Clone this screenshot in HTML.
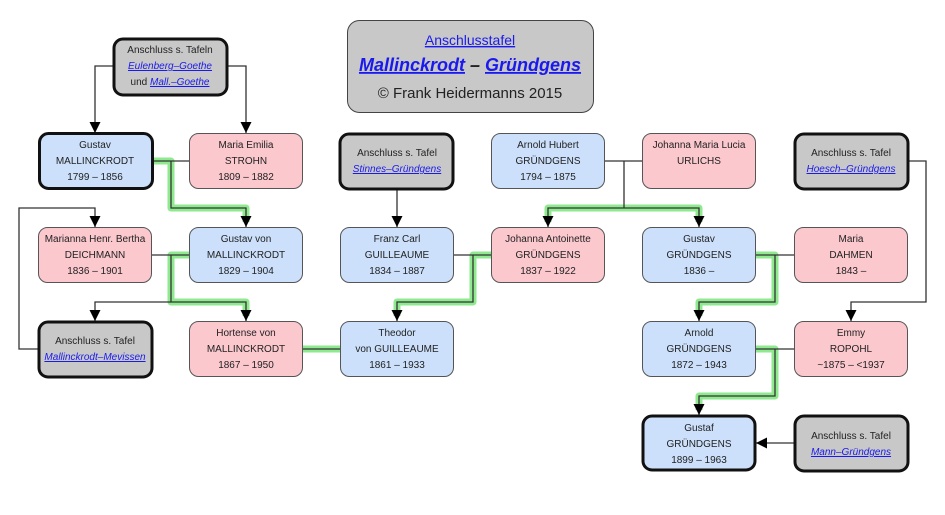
<!DOCTYPE html>
<html><head><meta charset="utf-8"><style>
body{margin:0;background:#fff}
svg text{font-family:"Liberation Sans",sans-serif;font-size:10px;text-anchor:middle;fill:#222}
.l{fill:#1a1aee;text-decoration:underline;font-style:italic}
</style></head><body>
<svg width="945" height="510" xmlns="http://www.w3.org/2000/svg">
<defs><marker id="a" markerWidth="10" markerHeight="10" refX="5" refY="9" orient="auto" markerUnits="userSpaceOnUse"><path d="M0,0 L10,0 L5,9z" fill="#000" transform="rotate(-90 5 5) rotate(90 5 5)"/></marker>
<marker id="b" viewBox="0 0 10 10" refX="10" refY="5" markerWidth="11" markerHeight="11" orient="auto" markerUnits="userSpaceOnUse"><path d="M0,0 L10,5 L0,10z" fill="#000"/></marker></defs>
<!-- green glows -->
<g fill="none" stroke="#8fea8f" stroke-width="7" stroke-linejoin="round">
<path d="M152,161 H171 V208 H246 V222"/>
<path d="M189,255 H171 V302 H246 V316"/>
<path d="M303,349 H340"/>
<path d="M491,255 H473 V302 H397 V316"/>
<path d="M548,222 V208 H699 V222"/>
<path d="M756,255 H775 V302 H699 V316"/>
<path d="M756,349 H775 V396 H699 V410"/>
</g>
<g fill="none" stroke="#333" stroke-width="1.3">
<path d="M113,66 H95 V133" marker-end="url(#b)"/>
<path d="M227,66 H246 V133" marker-end="url(#b)"/>
<path d="M152,161 H189"/>
<path d="M171,161 V208 H246 V227" marker-end="url(#b)"/>
<path d="M152,255 H189"/>
<path d="M171,255 V302 H246 V321" marker-end="url(#b)"/>
<path d="M171,302 H95 V321" marker-end="url(#b)"/>
<path d="M38,349 H19 V208 H95 V227" marker-end="url(#b)"/>
<path d="M303,349 H340"/>
<path d="M397,189 V227" marker-end="url(#b)"/>
<path d="M454,255 H491"/>
<path d="M473,255 V302 H397 V321" marker-end="url(#b)"/>
<path d="M605,161 H642"/>
<path d="M624,161 V208"/>
<path d="M624,208 H548 V227" marker-end="url(#b)"/>
<path d="M624,208 H699 V227" marker-end="url(#b)"/>
<path d="M756,255 H794"/>
<path d="M775,255 V302 H699 V321" marker-end="url(#b)"/>
<path d="M908,161 H926 V302 H851 V321" marker-end="url(#b)"/>
<path d="M756,349 H794"/>
<path d="M775,349 V396 H699 V415" marker-end="url(#b)"/>
<path d="M794,443 H756" marker-end="url(#b)"/>
</g>
<!-- title -->
<rect x="347.5" y="20.5" width="246" height="92" rx="12" fill="#c8c8c8" stroke="#444"/>
<text x="470" y="45" class="l" style="font-size:14px;font-style:normal">Anschlusstafel</text>
<text x="470" y="71" style="font-size:18px;font-weight:bold;font-style:italic"><tspan class="l">Mallinckrodt</tspan> – <tspan class="l">Gründgens</tspan></text>
<text x="470" y="98" style="font-size:15px">© Frank Heidermanns 2015</text>
<!-- gray boxes -->
<g stroke="#111" stroke-width="3" fill="#c8c8c8">
<rect x="114" y="39" width="113" height="56" rx="9"/>
<rect x="340" y="134" width="113" height="55" rx="9"/>
<rect x="795" y="134" width="113" height="55" rx="9"/>
<rect x="39" y="322" width="113" height="55" rx="9"/>
<rect x="795" y="416" width="113" height="55" rx="9"/>
</g>
<text x="170" y="53">Anschluss s. Tafeln</text><text x="170" y="69" class="l">Eulenberg–Goethe</text><text x="170" y="85">und <tspan class="l">Mall.–Goethe</tspan></text>
<text x="397" y="156">Anschluss s. Tafel</text><text x="397" y="172" class="l">Stinnes–Gründgens</text>
<text x="851" y="156">Anschluss s. Tafel</text><text x="851" y="172" class="l">Hoesch–Gründgens</text>
<text x="95" y="344">Anschluss s. Tafel</text><text x="95" y="360" class="l">Mallinckrodt–Mevissen</text>
<text x="851" y="439">Anschluss s. Tafel</text><text x="851" y="455" class="l">Mann–Gründgens</text>
<!-- person boxes -->
<g stroke="#555" stroke-width="1">
<rect x="39.5" y="133.5" width="113" height="55" rx="9" fill="#cce0fb" stroke="#111" stroke-width="3"/>
<rect x="189.5" y="133.5" width="113" height="55" rx="9" fill="#fbc8ce"/>
<rect x="491.5" y="133.5" width="113" height="55" rx="9" fill="#cce0fb"/>
<rect x="642.5" y="133.5" width="113" height="55" rx="9" fill="#fbc8ce"/>
<rect x="38.5" y="227.5" width="113" height="55" rx="9" fill="#fbc8ce"/>
<rect x="189.5" y="227.5" width="113" height="55" rx="9" fill="#cce0fb"/>
<rect x="340.5" y="227.5" width="113" height="55" rx="9" fill="#cce0fb"/>
<rect x="491.5" y="227.5" width="113" height="55" rx="9" fill="#fbc8ce"/>
<rect x="642.5" y="227.5" width="113" height="55" rx="9" fill="#cce0fb"/>
<rect x="794.5" y="227.5" width="113" height="55" rx="9" fill="#fbc8ce"/>
<rect x="189.5" y="321.5" width="113" height="55" rx="9" fill="#fbc8ce"/>
<rect x="340.5" y="321.5" width="113" height="55" rx="9" fill="#cce0fb"/>
<rect x="642.5" y="321.5" width="113" height="55" rx="9" fill="#cce0fb"/>
<rect x="794.5" y="321.5" width="113" height="55" rx="9" fill="#fbc8ce"/>
<rect x="643" y="416" width="112" height="54" rx="9" fill="#cce0fb" stroke="#111" stroke-width="3"/>
</g>
<g>
<text x="95" y="148">Gustav</text><text x="95" y="164">MALLINCKRODT</text><text x="95" y="180">1799 – 1856</text>
<text x="246" y="148">Maria Emilia</text><text x="246" y="164">STROHN</text><text x="246" y="180">1809 – 1882</text>
<text x="548" y="148">Arnold Hubert</text><text x="548" y="164">GRÜNDGENS</text><text x="548" y="180">1794 – 1875</text>
<text x="699" y="148">Johanna Maria Lucia</text><text x="699" y="164">URLICHS</text>
<text x="95" y="242">Marianna Henr. Bertha</text><text x="95" y="258">DEICHMANN</text><text x="95" y="274">1836 – 1901</text>
<text x="246" y="242">Gustav von</text><text x="246" y="258">MALLINCKRODT</text><text x="246" y="274">1829 – 1904</text>
<text x="397" y="242">Franz Carl</text><text x="397" y="258">GUILLEAUME</text><text x="397" y="274">1834 – 1887</text>
<text x="548" y="242">Johanna Antoinette</text><text x="548" y="258">GRÜNDGENS</text><text x="548" y="274">1837 – 1922</text>
<text x="699" y="242">Gustav</text><text x="699" y="258">GRÜNDGENS</text><text x="699" y="274">1836 –</text>
<text x="851" y="242">Maria</text><text x="851" y="258">DAHMEN</text><text x="851" y="274">1843 –</text>
<text x="246" y="336">Hortense von</text><text x="246" y="352">MALLINCKRODT</text><text x="246" y="368">1867 – 1950</text>
<text x="397" y="336">Theodor</text><text x="397" y="352">von GUILLEAUME</text><text x="397" y="368">1861 – 1933</text>
<text x="699" y="336">Arnold</text><text x="699" y="352">GRÜNDGENS</text><text x="699" y="368">1872 – 1943</text>
<text x="851" y="336">Emmy</text><text x="851" y="352">ROPOHL</text><text x="851" y="368">~1875 – &lt;1937</text>
<text x="699" y="431">Gustaf</text><text x="699" y="447">GRÜNDGENS</text><text x="699" y="463">1899 – 1963</text>
</g>
</svg>
</body></html>
